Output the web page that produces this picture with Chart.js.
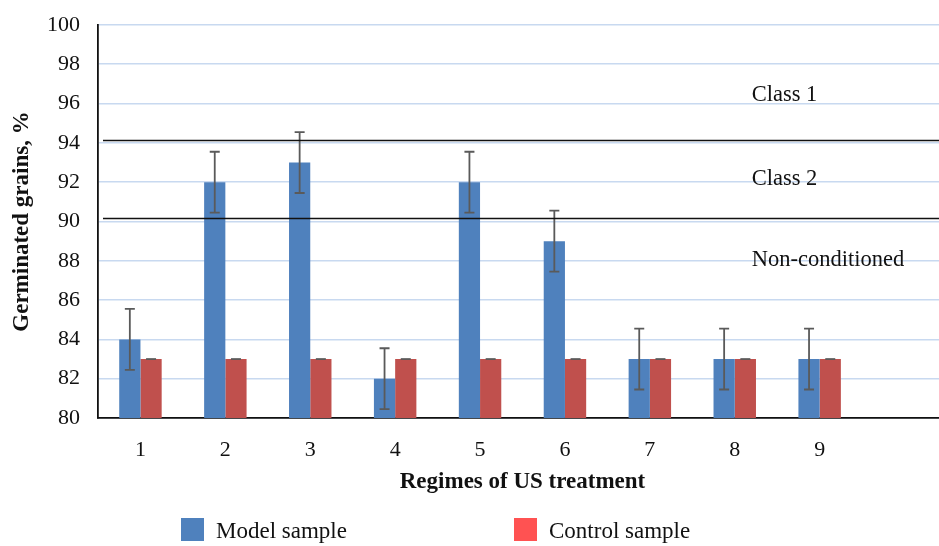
<!DOCTYPE html>
<html>
<head>
<meta charset="utf-8">
<script src="https://cdn.jsdelivr.net/npm/chart.js@4/dist/chart.umd.min.js"></script>
<style>
  html, body { margin: 0; padding: 0; background: #ffffff; overflow: hidden; }
  #wrap { width: 950px; height: 546px; }
</style>
</head>
<body>
<div id="wrap"><canvas id="chart" width="950" height="546"></canvas></div>
<script>
// Regimes of ultrasonic treatment (the last slot is left empty)
const categories = ['1', '2', '3', '4', '5', '6', '7', '8', '9', ''];

// Germination, %
const modelValues   = [84, 92, 93, 82, 92, 89, 83, 83, 83];
const controlValues = [83, 83, 83, 83, 83, 83, 83, 83, 83];

// Error half-widths
const modelErrors   = [1.55, 1.55, 1.55, 1.55, 1.55, 1.55, 1.55, 1.55, 1.55];
const controlErrors = [0, 0, 0, 0, 0, 0, 0, 0, 0];

// Class boundaries and zone captions
const classBounds = [94.15, 90.2];
const zoneNames   = ['Class 1', 'Class 2', 'Non-conditioned'];
const zoneLevels  = [96.45, 92.15, 88.05];
const zoneIndex   = 7.2;

// Y axis range
const yMin = 80, yMax = 100, yStep = 2;

const SERIF = "'Liberation Serif', 'Times New Roman', serif";
const BLUE = '#4F81BD';
const RED = '#C0504D';
const RED_KEY = '#FF5252';

const errorBars = {
  id: 'errorBars',
  afterDatasetsDraw(chart) {
    const { ctx, scales: { y } } = chart;
    ctx.save();
    ctx.strokeStyle = '#5a5a5a';
    ctx.lineWidth = 1.8;
    chart.data.datasets.forEach((ds, di) => {
      if (!ds.errors) return;
      const meta = chart.getDatasetMeta(di);
      meta.data.forEach((bar, i) => {
        const v = ds.data[i], e = ds.errors[i];
        const top = y.getPixelForValue(v + e);
        const bot = y.getPixelForValue(v - e);
        const x = bar.x, half = 5;
        ctx.beginPath();
        if (e > 0) {
          ctx.moveTo(x, top); ctx.lineTo(x, bot);
          ctx.moveTo(x - half, bot); ctx.lineTo(x + half, bot);
        }
        ctx.moveTo(x - half, top); ctx.lineTo(x + half, top);
        ctx.stroke();
      });
    });
    ctx.restore();
  }
};

const classZones = {
  id: 'classZones',
  afterDatasetsDraw(chart) {
    const { ctx, chartArea, scales: { x, y } } = chart;
    ctx.save();
    ctx.strokeStyle = '#111111';
    ctx.lineWidth = 1.6;
    classBounds.forEach(v => {
      const py = Math.round(y.getPixelForValue(v)) + 0.5;
      ctx.beginPath();
      ctx.moveTo(chartArea.left + 5, py);
      ctx.lineTo(chartArea.right, py);
      ctx.stroke();
    });
    ctx.fillStyle = '#111111';
    ctx.font = '22.5px ' + SERIF;
    ctx.textAlign = 'left';
    ctx.textBaseline = 'middle';
    const px = x.getPixelForValue(zoneIndex);
    zoneNames.forEach((t, i) => ctx.fillText(t, px, y.getPixelForValue(zoneLevels[i])));
    ctx.restore();
  }
};

const keyBoxes = {
  id: 'keyBoxes',
  afterDraw(chart) {
    const { ctx } = chart;
    const slots = [181, 514];
    const keyColors = [BLUE, RED_KEY];
    ctx.save();
    ctx.font = '23px ' + SERIF;
    ctx.textAlign = 'left';
    ctx.textBaseline = 'middle';
    chart.data.datasets.forEach((ds, i) => {
      ctx.fillStyle = keyColors[i];
      ctx.fillRect(slots[i], 518, 23, 23);
      ctx.fillStyle = '#111111';
      ctx.fillText(ds.label, slots[i] + 35, 532);
    });
    ctx.restore();
  }
};

new Chart(document.getElementById('chart'), {
  type: 'bar',
  data: {
    labels: categories,
    datasets: [
      { label: 'Model sample', data: modelValues, errors: modelErrors, backgroundColor: BLUE,
        categoryPercentage: 0.5, barPercentage: 1.0 },
      { label: 'Control sample', data: controlValues, errors: controlErrors, backgroundColor: RED,
        categoryPercentage: 0.5, barPercentage: 1.0 }
    ]
  },
  options: {
    responsive: false,
    animation: false,
    layout: { padding: { top: 25, right: 3, left: 0, bottom: 0 } },
    plugins: { legend: { display: false }, tooltip: { enabled: false } },
    scales: {
      x: {
        offset: true,
        grid: { display: false, drawTicks: false },
        border: { display: true, color: '#111111', width: 1.8 },
        ticks: { color: '#111111', font: { family: SERIF, size: 22 }, padding: 19 },
        title: { display: true, text: 'Regimes of US treatment', color: '#111111',
                 font: { family: SERIF, size: 23, weight: 'bold' }, padding: { top: 0, bottom: 50 } },
        afterFit(scale) { scale.height = 128; }
      },
      y: {
        min: yMin, max: yMax,
        grid: { color: '#C8D9F0', lineWidth: 1.6, drawTicks: false },
        border: { display: true, color: '#111111', width: 1.8 },
        ticks: { stepSize: yStep, color: '#111111', font: { family: SERIF, size: 22 }, padding: 18 },
        title: { display: true, text: 'Germinated grains, %', color: '#111111',
                 font: { family: SERIF, size: 23, weight: 'bold' }, padding: { top: 8, bottom: 0 } },
        afterFit(scale) {
          scale.width = 98;
          scale.paddingTop = 0;
          scale.paddingBottom = 0;
        }
      }
    }
  },
  plugins: [errorBars, classZones, keyBoxes]
});
</script>
</body>
</html>
